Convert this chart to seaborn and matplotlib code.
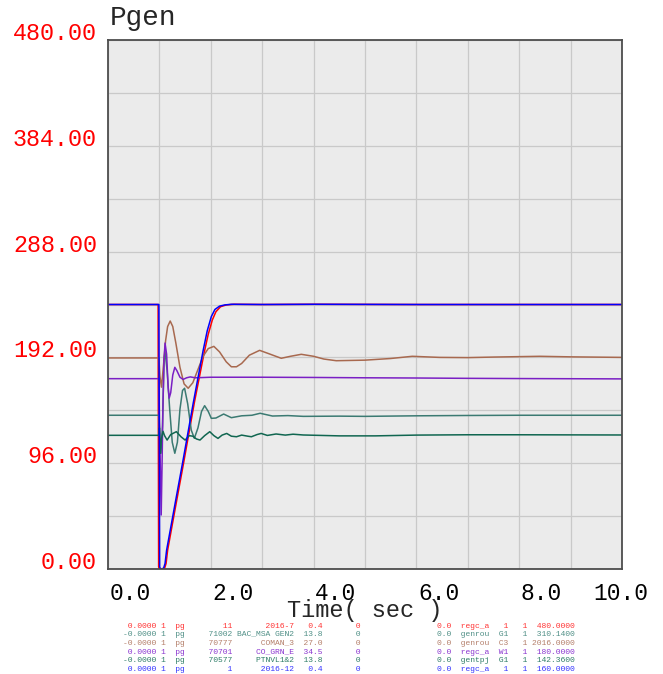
import numpy as np
import pandas as pd
import matplotlib
matplotlib.use("Agg")
import matplotlib.pyplot as plt
from matplotlib.transforms import ScaledTranslation
import seaborn as sns

# ---- simulated generator outputs (MW) vs time (s) ----
t_red = [0, 0.975, 0.985, 1.0, 1.1, 1.13, 1.16, 1.32, 1.47, 1.68, 1.87, 1.95, 2.03,
         2.1, 2.19, 2.3, 2.45, 3.0, 4.0, 6.0, 8.0, 10.0]
p_red = [240, 240, 2, 0, 0.5, 5, 17, 58, 96, 151, 196, 213, 226,
         233.5, 238, 239.6, 240.2, 240, 240.2, 240, 240, 240]

t_teal = [0, 0.99, 1.01, 1.03, 1.06, 1.09, 1.11, 1.15, 1.2, 1.25, 1.30, 1.35, 1.40,
          1.45, 1.49, 1.55, 1.62, 1.68, 1.75, 1.82, 1.88, 1.95, 2.01, 2.1, 2.25,
          2.4, 2.6, 2.8, 2.96, 3.2, 3.5, 3.8, 4.5, 5.0, 6.0, 7.0, 8.0, 10.0]
p_teal = [139.5, 139.5, 120, 105, 130, 190, 197, 180, 145, 115, 105, 115, 145,
          162, 164, 150, 126, 118.6, 128, 143, 148.2, 143, 136.7, 137, 140.6,
          137.3, 139, 139.5, 141.3, 138.8, 139.2, 138.5, 138.7, 138.5, 139, 139.3, 139.5, 139.5]

t_brown = [0, 0.99, 1.01, 1.04, 1.08, 1.12, 1.16, 1.21, 1.26, 1.32, 1.4, 1.48, 1.56,
           1.65, 1.75, 1.85, 1.95, 2.06, 2.17, 2.3, 2.4, 2.5, 2.6, 2.75, 2.95, 3.15,
           3.37, 3.55, 3.76, 4.0, 4.2, 4.44, 5.0, 5.5, 5.92, 6.45, 7.0, 7.5, 8.4, 9.0, 10.0]
p_brown = [191.5, 191.5, 175, 165, 185, 207, 220, 225, 220, 205, 183, 168, 164,
           169, 181, 193, 200, 202, 197, 188, 183.5, 183.5, 186.5, 194, 198.4, 195,
           191.2, 193, 194.8, 193, 190.5, 189, 189.5, 191, 193, 192, 191.8, 192.3, 193, 192.5, 192]

t_purple = [0, 0.99, 1.0, 1.015, 1.035, 1.05, 1.07, 1.09, 1.11, 1.14, 1.17, 1.19,
            1.22, 1.26, 1.30, 1.34, 1.40, 1.46, 1.53, 1.60, 1.7, 2.0, 3.0, 4.0,
            5.0, 6.0, 7.0, 8.0, 10.0]
p_purple = [172.7, 172.7, 140, 100, 49, 90, 150, 190, 205, 195, 165, 155,
            160, 176, 183, 180, 174, 172, 173.5, 174.3, 173.5, 174, 174, 173.8,
            173.5, 173.3, 173, 172.8, 172.5]

t_green = [0, 0.99, 1.0, 1.02, 1.04, 1.07, 1.1, 1.15, 1.22, 1.33, 1.42, 1.5, 1.58,
           1.65, 1.72, 1.79, 1.88, 1.98, 2.06, 2.14, 2.22, 2.31, 2.4, 2.5, 2.6,
           2.72, 2.79, 2.9, 2.98, 3.1, 3.27, 3.45, 3.6, 3.8, 4.5, 5.2, 6.0, 7.0, 8.0, 10.0]
p_green = [121.3, 121.3, 128, 105, 118, 125, 121, 117, 122, 124.6, 120, 117, 121,
           120.5, 118, 117, 121, 124.6, 121, 118.5, 121.5, 123, 120.5, 120, 121.5,
           120.5, 120, 122, 123, 121.2, 122.5, 121.5, 122.3, 121.6, 120.8, 120.8, 121.5, 121.8, 121.8, 121.6]

t_blue = [0, 0.99, 1.005, 1.02, 1.08, 1.11, 1.14, 1.3, 1.45, 1.66, 1.85, 1.93, 2.01,
          2.08, 2.17, 2.27, 2.4, 3.0, 4.0, 6.0, 8.0, 10.0]
p_blue = [240, 240, 2, 0, 0.5, 5, 17, 58, 96, 151, 198, 216, 229,
          235.5, 238.5, 239.6, 240.2, 240, 240.2, 240, 240, 240]

# ---- channel description table (one row per curve) ----
ch_value = ["0.0000", "-0.0000", "-0.0000", "0.0000", "-0.0000", "0.0000"]
ch_bus = [11, 71002, 70777, 70701, 70577, 1]
ch_name = ["2016-7", "BAC_MSA GEN2", "COMAN_3", "CO_GRN_E", "PTNVL1&2", "2016-12"]
ch_kv = ["0.4", "13.8", "27.0", "34.5", "13.8", "0.4"]
ch_model = ["regc_a", "genrou", "genrou", "regc_a", "gentpj", "regc_a"]
ch_id = ["1", "G1", "C3", "W1", "G1", "1"]
ch_mbase = [480.0, 310.14, 2016.0, 180.0, 142.36, 160.0]

series_keys = ["red", "teal", "brown", "purple", "green", "blue"]
line_colors = ["#ff0000", "#3b7a72", "#a8694f", "#7a1fc4", "#106650", "#0000ff"]
text_colors = ["#ff3333", "#4f8f86", "#b47f6a", "#8a35d0", "#2f7e68", "#3333ff"]

y_ticks = [0, 96, 192, 288, 384, 480]
x_ticks = [0, 2, 4, 6, 8, 10]

frames = []
for key, t, p in zip(series_keys,
                     [t_red, t_teal, t_brown, t_purple, t_green, t_blue],
                     [p_red, p_teal, p_brown, p_purple, p_green, p_blue]):
    frames.append(pd.DataFrame({"t": t, "p": p, "series": key}))
df = pd.concat(frames, ignore_index=True)

sns.set_style("white", {"axes.facecolor": "#ebebeb"})
plt.rcParams["font.family"] = ["Liberation Mono", "DejaVu Sans Mono", "DejaVu Sans"]

W, H = 663, 674
fig = plt.figure(figsize=(W / 100, H / 100), dpi=100)
ax = fig.add_axes([108 / W, 1 - 569 / H, (622 - 108) / W, (569 - 40) / H])
ax.set_facecolor("#ebebeb")

sns.lineplot(data=df, x="t", y="p", hue="series", hue_order=series_keys,
             palette=dict(zip(series_keys, line_colors)), estimator=None,
             sort=False, legend=False, linewidth=1.1, ax=ax)

ax.set_xlim(0, 10)
ax.set_ylim(0, 480)
ax.set_xticks(x_ticks)
ax.set_xticks([1, 3, 5, 7, 9], minor=True)
ax.set_yticks(y_ticks)
ax.set_yticks([48, 144, 240, 336, 432], minor=True)
ax.grid(True, which="both", color="#c9c9c9", linewidth=0.9)
ax.set_axisbelow(True)
ax.set_xlabel("")
ax.set_ylabel("")

ax.set_xticklabels([f"{v:.1f}" for v in x_ticks])
ax.set_yticklabels([f"{v:.2f}" for v in y_ticks])
ax.tick_params(axis="x", which="major", length=4.5, width=0.8, color="#707070",
               pad=5.0, labelsize=16.5, labelcolor="black")
ax.tick_params(axis="y", which="major", length=8, width=0.8, color="#707070",
               pad=0, labelsize=16.8, labelcolor="#ff0000")
ax.tick_params(which="minor", length=0)
xlabels = ax.get_xticklabels()
for lbl in xlabels:
    lbl.set_horizontalalignment("left")
    lbl.set_transform(lbl.get_transform() + ScaledTranslation(1.5 / 100, 0, fig.dpi_scale_trans))
# keep the last time label inside the figure
xlabels[-1].set_transform(xlabels[-1].get_transform()
                          + ScaledTranslation(-30 / 100, 0, fig.dpi_scale_trans))
for lbl in ax.get_yticklabels():
    lbl.set_verticalalignment("baseline")

for s in ax.spines.values():
    s.set_visible(True)
    s.set_color("#4d4d4d")
    s.set_linewidth(1.3)

fig.text(110 / W, 1 - 25 / H, "Pgen", fontsize=20, va="baseline", ha="left")
fig.text(365 / W, 1 - 617 / H, "Time( sec )", fontsize=17, va="baseline", ha="center")

# channel description lines under the plot (channel part and model part)
row_y0, row_dy = 626.2, 8.7
for i in range(len(series_keys)):
    y = 1 - (row_y0 + i * row_dy) / H
    left = (f"{ch_value[i]:>7} 1  pg     {ch_bus[i]:>5} {ch_name[i]:>12}  {ch_kv[i]:>4}"
            f"       0")
    right = f"0.0  {ch_model[i]:<6}  {ch_id[i]:>2}   1 {ch_mbase[i]:9.4f}"
    fig.text(123.3 / W, y, left, fontsize=5.79, color=text_colors[i], ha="left", va="center")
    fig.text(437.4 / W, y, right, fontsize=5.79, color=text_colors[i], ha="left", va="center")

fig.savefig("out.png", dpi=100)
